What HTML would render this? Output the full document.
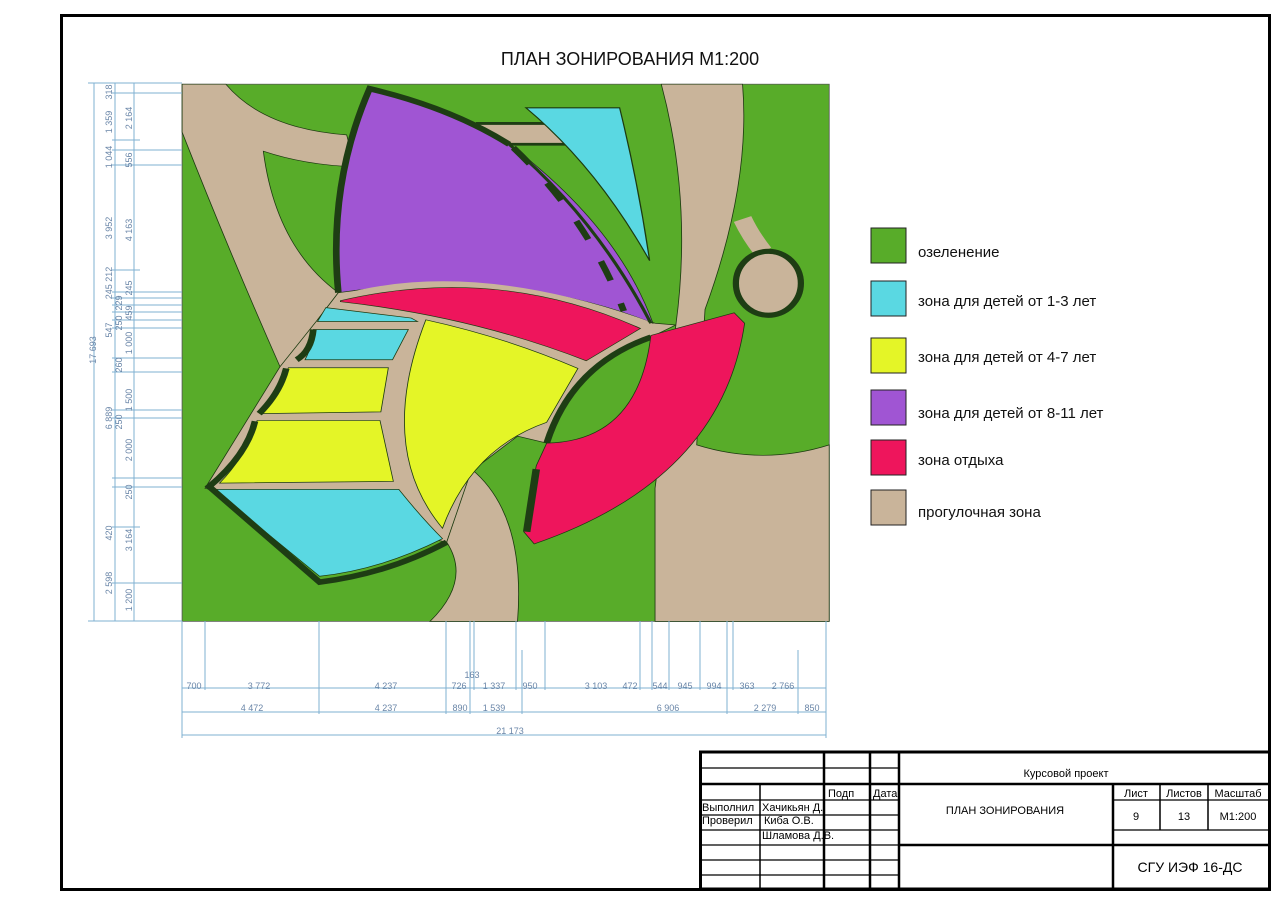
<!DOCTYPE html>
<html><head><meta charset="utf-8"><style>
html,body{margin:0;padding:0;background:#fff;}
svg{display:block;font-family:"Liberation Sans",sans-serif;}
</style></head><body>
<svg width="1280" height="905" viewBox="0 0 1280 905" xmlns="http://www.w3.org/2000/svg">
<rect x="0" y="0" width="1280" height="905" fill="#fff"/>
<rect x="61.5" y="15.5" width="1208" height="874" fill="none" stroke="#000" stroke-width="3"/>
<text x="630" y="65" font-size="18" text-anchor="middle" fill="#111">ПЛАН ЗОНИРОВАНИЯ М1:200</text>

<!-- PLAN -->
<g transform="translate(180,80) scale(0.4167,0.3475)">
<rect x="5" y="12" width="1553" height="1546" fill="#58ac29" stroke="#555" stroke-width="2"/>
<g fill="#c9b49a" stroke="#1c3a10" stroke-width="2">
<path d="M5,12 L110,12 Q200,140 400,158 L420,250 Q300,245 200,205 Q230,480 380,612 L330,690 Q300,790 240,825 Q120,500 5,150 Z"/>
<path d="M240,825 L330,690 L380,612 Q700,530 1140,700 L1190,705 L1130,740 L880,1045 L810,1025 L700,1125 L640,1330 L60,1175 Z"/>
<path d="M640,1330 Q700,1440 600,1558 L810,1558 Q830,1250 700,1120 Z"/>
<path d="M1155,12 L1350,12 Q1370,300 1260,660 L1240,1050 Q1400,1110 1558,1050 L1558,1558 L1140,1558 L1140,1175 L1190,705 Q1230,350 1155,12 Z"/>
<path d="M710,125 L880,125 L935,185 L790,185 Z"/>
</g>
<path d="M1350,400 Q1370,450 1400,495" stroke="#c9b49a" stroke-width="45" fill="none"/>
<ellipse cx="1412" cy="585" rx="78" ry="92" fill="#c9b49a" stroke="#1e3d14" stroke-width="15"/>
<path d="M710,125 L880,125 M790,185 L935,185" stroke="#1e3d14" stroke-width="8"/>
<path d="M455,25 Q650,80 790,185 Q1050,420 1135,700 Q800,540 380,612 Q355,300 455,25 Z" fill="#a055d3" stroke="#1c3a10" stroke-width="2"/>
<path d="M380,612 Q355,300 455,25 Q650,80 790,185" fill="none" stroke="#1e3d14" stroke-width="16"/>
<path d="M800,195 Q980,400 1065,665" fill="none" stroke="#1e3d14" stroke-width="16" stroke-dasharray="60,70"/>
<path d="M790,185 Q1000,400 1130,700" fill="none" stroke="#1e3d14" stroke-width="8"/>
<path d="M385,625 Q700,520 1120,700" fill="none" stroke="#c9b49a" stroke-width="14"/>
<path d="M830,80 L1055,80 Q1100,300 1127,520 Q1000,250 830,80 Z" fill="#5ad8e2" stroke="#1c3a10" stroke-width="3"/>
<path d="M385,635 Q760,530 1105,715 L975,808 Q700,680 385,638 Z" fill="#ee155c" stroke="#1c3a10" stroke-width="2"/>
<path d="M880,1045 Q940,820 1130,740 Q1100,1040 880,1045 Z" fill="#58ac29"/>
<path d="M880,1045 Q940,820 1130,740" fill="none" stroke="#1e3d14" stroke-width="16"/>
<path d="M1130,735 L1330,670 L1355,700 Q1300,1150 850,1335 L825,1300 L855,1110 L880,1045 Q1100,1040 1130,735 Z" fill="#ee155c" stroke="#1c3a10" stroke-width="2"/>
<path d="M832,1300 L855,1120" stroke="#1e3d14" stroke-width="18"/>
<path d="M590,690 Q780,740 955,830 L880,985 Q700,1060 630,1290 Q470,1060 590,690 Z" fill="#e4f527" stroke="#1c3a10" stroke-width="2"/>
<path d="M260,828 L500,828 L482,955 L195,960 Q245,900 260,828 Z" fill="#e4f527" stroke="#1c3a10" stroke-width="2"/>
<path d="M185,980 L480,980 L512,1155 L95,1160 Q160,1080 185,980 Z" fill="#e4f527" stroke="#1c3a10" stroke-width="2"/>
<path d="M350,655 L555,685 L570,695 L330,695 Z" fill="#5ad8e2" stroke="#1c3a10" stroke-width="2"/>
<path d="M320,718 L548,718 L510,805 L300,805 Q320,760 320,718 Z" fill="#5ad8e2" stroke="#1c3a10" stroke-width="2"/>
<path d="M80,1178 L525,1178 Q580,1260 630,1320 Q480,1410 335,1428 Z" fill="#5ad8e2" stroke="#1c3a10" stroke-width="2"/>
<path d="M320,718 Q315,780 280,805 M255,830 Q240,900 190,960 M180,982 Q160,1080 70,1170 L335,1445 Q500,1420 640,1330" fill="none" stroke="#1e3d14" stroke-width="16"/>
</g>

<!-- LEGEND -->
<g stroke="#222" stroke-width="1">
<rect x="871" y="228" width="35" height="35" fill="#58ac29"/>
<rect x="871" y="281" width="35" height="35" fill="#5ad8e2"/>
<rect x="871" y="338" width="35" height="35" fill="#e4f527"/>
<rect x="871" y="390" width="35" height="35" fill="#a055d3"/>
<rect x="871" y="440" width="35" height="35" fill="#ee155c"/>
<rect x="871" y="490" width="35" height="35" fill="#c9b49a"/>
</g>
<g font-size="15" fill="#111">
<text x="918" y="257">озеленение</text>
<text x="918" y="306">зона для детей от 1-3 лет</text>
<text x="918" y="362">зона для детей от 4-7 лет</text>
<text x="918" y="418">зона для детей от 8-11 лет</text>
<text x="918" y="465">зона отдыха</text>
<text x="918" y="517">прогулочная зона</text>
</g>

<!-- LEFT DIMENSIONS -->
<g stroke="#7fb0d2" stroke-width="1" fill="none">
<line x1="94" y1="83" x2="94" y2="621"/>
<line x1="115" y1="83" x2="115" y2="621"/>
<line x1="134" y1="83" x2="134" y2="621"/>
<path d="M88,83H182 M88,621H182 M112,93H182 M112,150H182 M112,165H182 M112,292H182 M112,298H182 M112,305H182 M112,312H182 M112,320H182 M112,328H182 M112,358H182 M112,372H182 M112,410H182 M112,418H182 M112,478H182 M112,487H182 M112,583H182 M112,527H140 M112,270H140 M112,140H140"/>
</g>
<g fill="#6a86a8" font-size="9">
<text transform="translate(96,350) rotate(-90)" text-anchor="middle">17 693</text>
<g text-anchor="middle">
<text transform="translate(112,92) rotate(-90)">318</text>
<text transform="translate(112,122) rotate(-90)">1 359</text>
<text transform="translate(112,157) rotate(-90)">1 044</text>
<text transform="translate(112,228) rotate(-90)">3 952</text>
<text transform="translate(112,283) rotate(-90)">245 212</text>
<text transform="translate(112,330) rotate(-90)">547</text>
<text transform="translate(112,418) rotate(-90)">6 889</text>
<text transform="translate(112,533) rotate(-90)">420</text>
<text transform="translate(112,583) rotate(-90)">2 598</text>
<text transform="translate(132,118) rotate(-90)">2 164</text>
<text transform="translate(132,160) rotate(-90)">556</text>
<text transform="translate(132,230) rotate(-90)">4 163</text>
<text transform="translate(132,288) rotate(-90)">245</text>
<text transform="translate(122,303) rotate(-90)">229</text>
<text transform="translate(122,323) rotate(-90)">250</text>
<text transform="translate(132,313) rotate(-90)">459</text>
<text transform="translate(132,343) rotate(-90)">1 000</text>
<text transform="translate(122,365) rotate(-90)">260</text>
<text transform="translate(132,400) rotate(-90)">1 500</text>
<text transform="translate(122,422) rotate(-90)">250</text>
<text transform="translate(132,450) rotate(-90)">2 000</text>
<text transform="translate(132,492) rotate(-90)">250</text>
<text transform="translate(132,540) rotate(-90)">3 164</text>
<text transform="translate(132,600) rotate(-90)">1 200</text>
</g></g>

<!-- BOTTOM DIMENSIONS -->
<g stroke="#7fb0d2" stroke-width="1" fill="none">
<path d="M182,688H826 M182,712H826 M182,735H826 M182,621V738 M826,621V738"/>
<path d="M205,621V690 M319,621V714 M446,621V714 M470,621V714 M474,621V690 M516,621V690 M522,650V714 M545,621V690 M640,621V690 M652,621V690 M669,621V690 M700,621V690 M727,621V714 M733,621V690 M798,650V714"/>
</g>
<g fill="#6a86a8" font-size="9" text-anchor="middle">
<text x="194" y="689">700</text><text x="259" y="689">3 772</text><text x="386" y="689">4 237</text>
<text x="459" y="689">726</text><text x="472" y="678">163</text><text x="494" y="689">1 337</text>
<text x="530" y="689">950</text><text x="596" y="689">3 103</text><text x="630" y="689">472</text>
<text x="660" y="689">544</text><text x="685" y="689">945</text><text x="714" y="689">994</text>
<text x="747" y="689">363</text><text x="783" y="689">2 766</text>
<text x="252" y="711">4 472</text><text x="386" y="711">4 237</text><text x="460" y="711">890</text>
<text x="494" y="711">1 539</text><text x="668" y="711">6 906</text><text x="765" y="711">2 279</text>
<text x="812" y="711">850</text>
<text x="510" y="734">21 173</text>
</g>

<!-- TITLE BLOCK -->
<g stroke="#000" fill="none">
<rect x="700.5" y="752" width="569" height="137" stroke-width="3"/>
<path d="M824,752V889 M870,752V889 M899,752V889 M1113,784V889" stroke-width="2.5"/>
<path d="M760,784V889 M1160,784V830 M1208,784V830" stroke-width="1.5"/>
<path d="M700,784H899 M899,784H1270 M899,845H1270" stroke-width="2.5"/>
<path d="M700,768H899 M700,800H899 M700,815H899 M700,830H899 M700,845H899 M700,860H899 M700,875H899 M1113,800H1270 M1113,830H1270" stroke-width="1.2"/>
</g>
<g fill="#000" font-size="11">
<text x="1066" y="777" text-anchor="middle">Курсовой проект</text>
<text x="828" y="797">Подп</text><text x="873" y="797">Дата</text>
<text x="702" y="811">Выполнил</text><text x="762" y="811">Хачикьян Д.</text>
<text x="702" y="824">Проверил</text><text x="764" y="824">Киба О.В.</text>
<text x="762" y="839">Шламова Д.В.</text>
<text x="1005" y="814" text-anchor="middle">ПЛАН ЗОНИРОВАНИЯ</text>
<text x="1136" y="797" text-anchor="middle">Лист</text>
<text x="1184" y="797" text-anchor="middle">Листов</text>
<text x="1238" y="797" text-anchor="middle">Масштаб</text>
<text x="1136" y="820" text-anchor="middle">9</text>
<text x="1184" y="820" text-anchor="middle">13</text>
<text x="1238" y="820" text-anchor="middle">М1:200</text>
<text x="1190" y="872" text-anchor="middle" font-size="14">СГУ ИЭФ 16-ДС</text>
</g>
</svg>
</body></html>
